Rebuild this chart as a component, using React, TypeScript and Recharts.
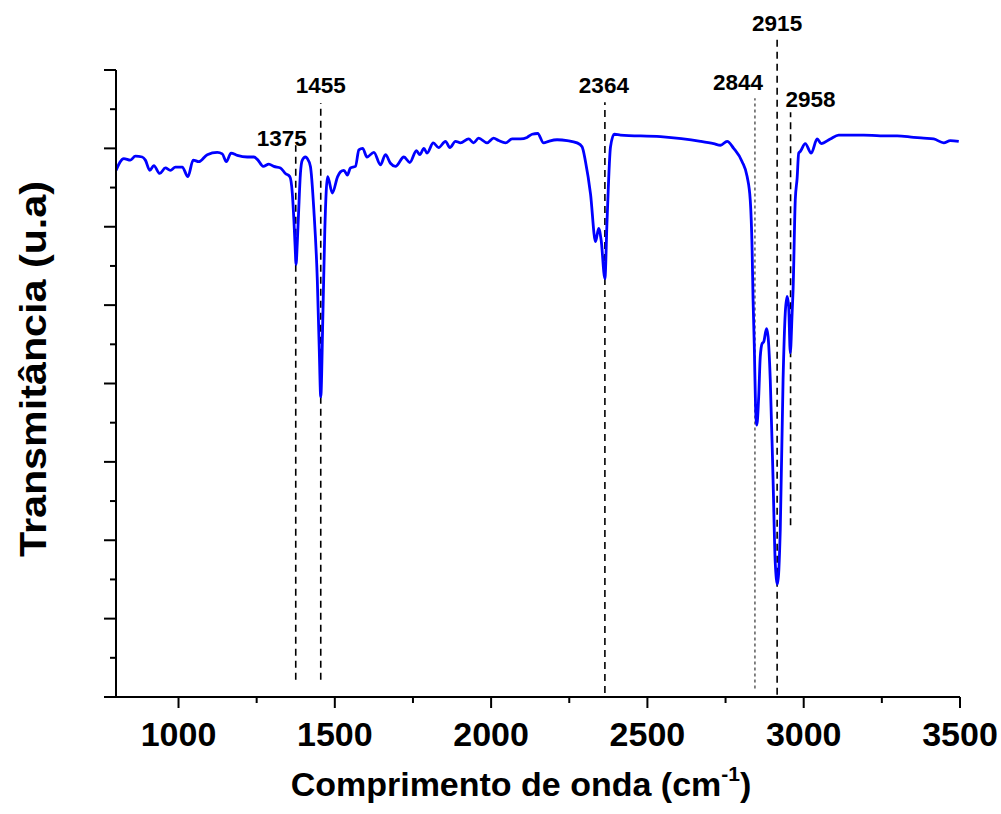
import { LineChart, Line, XAxis, YAxis, ReferenceLine, Label } from 'recharts';

const FONT = '"Liberation Sans", Arial, Helvetica, sans-serif';
const BLUE = '#0000ff';

// FTIR spectrum: wavenumber (cm-1) and transmittance (arbitrary units)
const wavenumbers = [
  800, 825, 846, 862, 884, 894, 908, 921, 940, 958, 974, 990, 1012, 1030, 1047, 1065, 1092,
  1124, 1140, 1153, 1168, 1188, 1220, 1241, 1252, 1271, 1289, 1305, 1326, 1342, 1356, 1364,
  1369, 1373, 1376, 1380, 1384, 1390, 1396, 1406, 1412, 1422, 1433, 1444, 1450, 1455, 1462,
  1468, 1477, 1492, 1509, 1518, 1529, 1540, 1550, 1566, 1577, 1589, 1603, 1625, 1646, 1662,
  1678, 1694, 1721, 1740, 1761, 1772, 1785, 1795, 1815, 1832, 1854, 1868, 1886, 1902, 1928,
  1944, 1960, 1987, 2008, 2024, 2046, 2067, 2094, 2115, 2131, 2149, 2168, 2184, 2211, 2243,
  2275, 2291, 2302, 2318, 2334, 2344, 2352, 2364, 2371, 2382, 2394, 2414, 2542, 2670, 2712,
  2734, 2755, 2776, 2803, 2819, 2829, 2835, 2838, 2842, 2846, 2850, 2856, 2861, 2867, 2872,
  2881, 2886, 2893, 2902, 2909, 2916, 2925, 2934, 2941, 2947, 2952, 2957, 2963, 2966, 2973,
  2979, 2984, 2989, 3005, 3024, 3043, 3056, 3085, 3112, 3192, 3245, 3299, 3352, 3384, 3416,
  3448, 3469, 3496,
];

const transmittance = [
  6.72, 6.87, 6.85, 6.9, 6.89, 6.85, 6.72, 6.78, 6.68, 6.75, 6.72, 6.76, 6.76, 6.64, 6.85, 6.83, 6.92,
  6.95, 6.93, 6.83, 6.94, 6.91, 6.89, 6.89, 6.86, 6.77, 6.8, 6.77, 6.75, 6.68, 6.64, 6.43,
  6.09, 5.75, 5.52, 5.8, 6.17, 6.68, 6.85, 6.89, 6.87, 6.77, 6.21, 5.32, 4.47, 3.83, 4.9,
  5.96, 6.64, 6.43, 6.64, 6.7, 6.72, 6.66, 6.75, 6.77, 6.98, 7.0, 6.89, 6.95, 6.79, 6.92,
  6.81, 6.77, 6.89, 6.82, 6.97, 6.92, 7.0, 6.94, 7.07, 7.01, 7.09, 7.01, 7.09, 7.07, 7.12,
  7.07, 7.13, 7.07, 7.13, 7.1, 7.07, 7.12, 7.12, 7.14, 7.18, 7.19, 7.07, 7.09, 7.11, 7.1,
  7.07, 7.02, 6.83, 6.42, 5.81, 5.98, 5.83, 5.34, 6.09, 7.02, 7.18, 7.17, 7.15, 7.09, 7.06,
  7.04, 7.09, 7.0, 6.83, 6.64, 6.34, 5.7, 5.07, 4.47, 3.7, 3.47, 3.83, 4.34, 4.51, 4.53,
  4.7, 4.6, 4.05, 2.77, 1.71, 1.44, 2.13, 4.05, 4.9, 5.11, 4.98, 4.39, 4.9, 5.19, 6.34,
  6.62, 6.94, 6.96, 7.06, 6.94, 7.12, 7.06, 7.12, 7.17, 7.17, 7.16, 7.16, 7.14, 7.13, 7.12,
  7.07, 7.1, 7.09,
];

// assigned band positions (cm-1)
const peaks = [1375, 1455, 2364, 2844, 2915, 2958];

const xTicks = [1000, 1250, 1500, 1750, 2000, 2250, 2500, 2750, 3000, 3250, 3500];
const yTicks = [0, 0.5, 1, 1.5, 2, 2.5, 3, 3.5, 4, 4.5, 5, 5.5, 6, 6.5, 7, 7.5, 8];

const data = wavenumbers.map((wn, i) => ({ wn, t: transmittance[i] }));

// marker line extent (in transmittance units), style and label offset per band
const markStyle: Record<number, { from: number; to: number; dash: string; width: number; color: string; dx: number; dy: number }> = {
  1375: { from: 0.22, to: 7.04, dash: '7 5', width: 1.6, color: '#000', dx: -14, dy: 1 },
  1455: { from: 0.22, to: 7.58, dash: '7 5', width: 1.6, color: '#000', dx: 0, dy: -10 },
  2364: { from: 0.05, to: 7.59, dash: '7 5', width: 1.6, color: '#000', dx: -1, dy: -9 },
  2844: { from: 0.11, to: 7.64, dash: '3 3', width: 1.2, color: '#333', dx: -17, dy: -8 },
  2915: { from: 0.03, to: 8.41, dash: '7 5', width: 1.6, color: '#000', dx: 0, dy: -7 },
  2958: { from: 2.19, to: 7.46, dash: '7 5', width: 1.6, color: '#000', dx: 20, dy: -5 },
};

const XTick = (props: any) => {
  const { x, y, payload } = props;
  const major = payload.value % 500 === 0;
  return (
    <g>
      <line x1={x} x2={x} y1={y} y2={y + (major ? 11 : 6)} stroke="#000" strokeWidth={2} />
      {major && (
        <text x={x} y={y + 49} textAnchor="middle" fontFamily={FONT} fontWeight="bold" fontSize={34} fill="#000">
          {payload.value}
        </text>
      )}
    </g>
  );
};

const YTick = (props: any) => {
  const { x, y, payload } = props;
  const major = Number.isInteger(payload.value);
  return <line x1={x} x2={x - (major ? 12 : 6)} y1={y} y2={y} stroke="#000" strokeWidth={2} />;
};

export default function App() {
  return (
    <div style={{ position: 'absolute', left: 0, top: 0, background: '#fff' }}>
      <LineChart width={1001} height={814} data={data} margin={{ top: 70, right: 41, bottom: 57, left: 56 }}>
        <XAxis
          type="number"
          dataKey="wn"
          domain={[800, 3500]}
          ticks={xTicks}
          interval={0}
          allowDataOverflow
          height={60}
          tickSize={0}
          tickMargin={0}
          tickLine={false}
          tick={<XTick />}
          axisLine={{ stroke: '#000', strokeWidth: 2 }}
        >
          <Label
            content={() => (
              <text x={521} y={796} textAnchor="middle" fontFamily={FONT} fontWeight="bold" fontSize={34} fill="#000">
                Comprimento de onda (cm
                <tspan dy={-15} fontSize={21}>-1</tspan>
                <tspan dy={15}>)</tspan>
              </text>
            )}
          />
        </XAxis>
        <YAxis
          type="number"
          domain={[0, 8]}
          ticks={yTicks}
          interval={0}
          width={60}
          tickSize={0}
          tickMargin={0}
          tickLine={false}
          tick={<YTick />}
          axisLine={{ stroke: '#000', strokeWidth: 2 }}
        >
          <Label
            content={() => (
              <text
                x={46}
                y={369}
                transform="rotate(-90 46 369)"
                textAnchor="middle"
                fontFamily={FONT}
                fontWeight="bold"
                fontSize={36}
                textLength={376}
                lengthAdjust="spacingAndGlyphs"
                fill="#000"
              >
                Transmitância (u.a)
              </text>
            )}
          />
        </YAxis>
        {peaks.map((p) => {
          const s = markStyle[p];
          return (
            <ReferenceLine
              key={p}
              segment={[
                { x: p, y: s.from },
                { x: p, y: s.to },
              ]}
              ifOverflow="visible"
              stroke={s.color}
              strokeWidth={s.width}
              strokeDasharray={s.dash}
              label={(lp: any) => (
                <text
                  x={lp.viewBox.x + s.dx}
                  y={lp.viewBox.y + s.dy}
                  textAnchor="middle"
                  fontFamily={FONT}
                  fontWeight="bold"
                  fontSize={22.5}
                  fill="#000"
                >
                  {p}
                </text>
              )}
            />
          );
        })}
        <Line
          type="monotone"
          dataKey="t"
          stroke={BLUE}
          strokeWidth={2.8}
          dot={false}
          activeDot={false}
          isAnimationActive={false}
        />
      </LineChart>
    </div>
  );
}
